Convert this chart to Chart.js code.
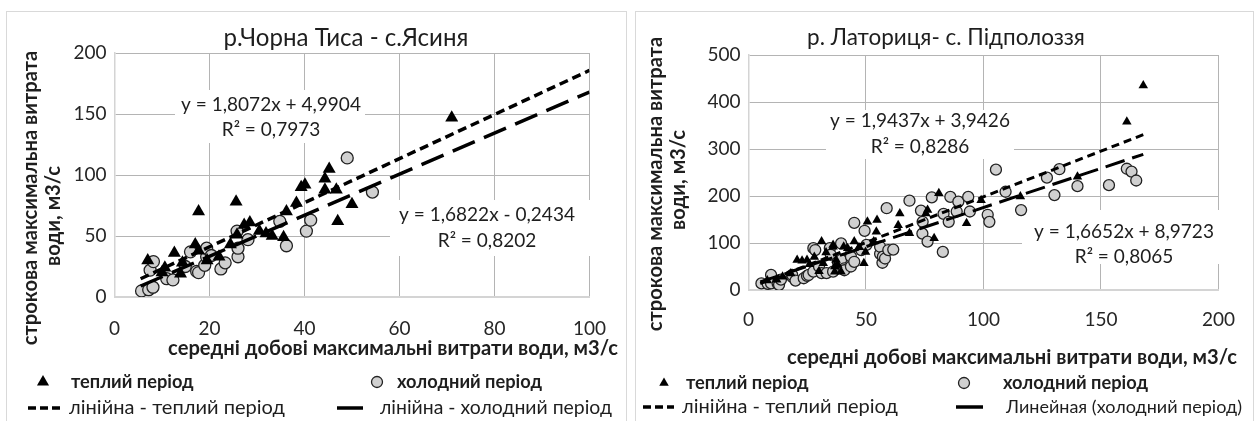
<!DOCTYPE html>
<html>
<head>
<meta charset="utf-8">
<title>Строкова та середні добові максимальні витрати води</title>
<script src="https://cdn.jsdelivr.net/npm/chart.js"></script>
<style>
  body { margin: 0; background: #fff; }
  .panel { position: absolute; top: 11px; height: 420px; border: 1px solid #d9d9d9; box-sizing: border-box; }
  .panel canvas { position: absolute; left: 0; top: 0; }
</style>
</head>
<body>
<div class="panel" style="left:6px; width:621px;"><canvas id="tysa" width="619" height="408"></canvas></div>
<div class="panel" style="left:635px; width:619px;"><canvas id="latorytsia" width="617" height="408"></canvas></div>
<script>
// р.Чорна Тиса - с.Ясиня: [середня добова, строкова] м3/с
const tysaWarm = [
  [7, 30], [10, 20], [10.6, 24], [12.6, 36], [13.9, 19], [14.3, 28], [17, 43], [17.7, 38],
  [17.7, 70], [19.5, 30], [22, 33], [24.4, 43], [25.6, 78], [25.8, 51], [27.3, 59], [28.5, 61],
  [30.5, 54], [31.9, 52], [33.2, 50], [35.6, 49], [36.2, 70], [38.3, 77], [39.3, 90], [40.1, 92],
  [44.3, 97], [44.3, 88], [45.2, 105], [46.7, 88], [47, 62], [50, 76], [71, 147]
];
const tysaCold = [
  [5.7, 5], [7.2, 6], [8.1, 8], [7.5, 22], [8.2, 29], [11, 15], [12.3, 14], [14.9, 25],
  [16, 37], [17.3, 21], [17.7, 20], [19, 26], [19.4, 33], [19.4, 40], [20.4, 34], [22.4, 23],
  [23.3, 28], [25.8, 54], [26, 33], [26, 40], [28.1, 47], [34.8, 62], [36.2, 42], [40.4, 54],
  [41.3, 63], [49, 114], [54.3, 86]
];
const tysaWarmFit = [1.8072, 4.9904];
const tysaColdFit = [1.6822, -0.2434];
const tysaFitRange = [5.5, 100];
const tysaWarmEq = ['y = 1,8072x + 4,9904', 'R² = 0,7973'];
const tysaColdEq = ['y = 1,6822x - 0,2434', 'R² = 0,8202'];
const tysaX = [0, 100, 20];   // min, max, step
const tysaY = [0, 200, 50];

// р. Латориця - с. Підполоззя
const latWarm = [
  [8, 20], [12, 22], [14.5, 28], [18, 35], [20.7, 64], [22.8, 62], [24.9, 64], [26, 55],
  [28, 70], [30, 40], [31.1, 103], [31.8, 57], [33, 80], [36, 92], [36, 96], [36.7, 39],
  [36.7, 50], [37.3, 64], [38, 53], [39.4, 39], [40.5, 92], [42.2, 89], [45, 103], [47, 91],
  [49.1, 57], [49.8, 81], [50.6, 145], [53.3, 103], [54.4, 124], [54.7, 149], [63.7, 138],
  [64.4, 163], [68.5, 121], [75.5, 163], [76.2, 170], [79, 110], [81, 206], [92.8, 142],
  [99, 191], [115.7, 199], [140, 241], [161, 358], [168, 435]
];
const latCold = [
  [5.5, 14], [8.2, 13], [9.6, 32], [9.6, 14], [12.4, 14], [13, 11], [13.8, 22], [18.6, 28],
  [18.6, 32], [20, 20], [23.5, 25], [24.9, 30], [25.6, 32], [27.6, 39], [27.6, 89], [28.4, 85],
  [30, 50], [31.1, 36], [33.2, 36], [34.6, 89], [35, 75], [36, 39], [38, 60], [39.4, 99],
  [39.4, 64], [40.8, 46], [40.8, 42], [43.6, 71], [43.6, 50], [45, 60], [45, 143], [48, 85],
  [49.4, 126], [50.2, 96], [56, 77], [56, 92], [57, 58], [57.2, 71], [58.1, 67], [58.8, 174],
  [59.5, 85], [61.6, 86], [68.5, 190], [73.4, 169], [74.1, 145], [74, 120], [76.2, 103],
  [78, 197], [82.7, 81], [83, 162], [85.2, 145], [85.9, 198], [88.6, 167], [89.3, 188],
  [93.5, 198], [94.2, 167], [101.8, 160], [102.5, 145], [105.3, 256], [109.4, 209], [116, 170],
  [127, 239], [130.2, 202], [132.3, 257], [140, 221], [153.4, 223], [161, 258], [163, 252],
  [165, 233]
];
const latWarmFit = [1.9437, 3.9426];
const latColdFit = [1.6652, 8.9723];
const latFitRange = [5, 168];
const latWarmEq = ['y = 1,9437x + 3,9426', 'R² = 0,8286'];
const latColdEq = ['y = 1,6652x + 8,9723', 'R² = 0,8065'];
const latX = [0, 200, 50];
const latY = [0, 500, 100];

const yTitle = ['строкова максимальна витрата', 'води, м3/с'];
const xTitle = 'середні добові максимальні витрати води, м3/с';
const legendLabels = ['теплий період', 'холодний період', 'лінійна - теплий період'];

const FAMILY = 'Lato, "Noto Sans", sans-serif';
Chart.defaults.font.family = FAMILY;
Chart.defaults.color = '#262626';
Chart.defaults.animation = false;

function toPts(pairs) { return pairs.map(p => ({ x: p[0], y: p[1] })); }
function fitLine(fit, range) { return range.map(x => ({ x: x, y: fit[0] * x + fit[1] })); }

// font size that makes a sample string as wide as it is in the picture (Calibri stand-in)
function sizeFor(ctx, text, weight, width) {
  ctx.font = weight + ' 20px ' + FAMILY;
  return 20 * width / ctx.measureText(text).width;
}

// titles, equation labels and the legend, drawn onto the chart canvas
const extras = {
  id: 'extras',
  beforeDatasetsDraw(chart, args, o) {
    const ctx = chart.ctx;
    ctx.save();
    ctx.fillStyle = '#fff';
    o.eqs.forEach(e => ctx.fillRect(e.box[0], e.box[1], e.box[2] - e.box[0], e.box[3] - e.box[1]));
    ctx.restore();
  },
  afterDraw(chart, args, o) {
    const ctx = chart.ctx;
    ctx.save();
    const sTitle = sizeFor(ctx, o.title, '', o.titleW);
    const sEq = sizeFor(ctx, tysaWarmEq[0], '', 180);
    const sAxis = sizeFor(ctx, xTitle, 'bold', 450);
    const sLegB = sizeFor(ctx, legendLabels[1], 'bold', 145);
    const sLeg = sizeFor(ctx, legendLabels[2], '', 216);
    const sLast = sizeFor(ctx, o.lastLabel, '', o.lastW);

    ctx.fillStyle = '#1e1e1e';
    ctx.textAlign = 'center';
    ctx.textBaseline = 'middle';

    ctx.font = sTitle + 'px ' + FAMILY;
    ctx.fillText(o.title, o.titlePos[0], o.titlePos[1]);

    ctx.font = sEq + 'px ' + FAMILY;
    o.eqs.forEach(e => {
      ctx.fillText(e.text[0], e.x, e.y[0]);
      ctx.fillText(e.text[1], e.x, e.y[1]);
    });

    ctx.font = 'bold ' + sAxis + 'px ' + FAMILY;
    ctx.fillText(xTitle, o.xTitlePos[0], o.xTitlePos[1]);
    o.yTitlePos.forEach((p, i) => {
      ctx.save();
      ctx.translate(p[0], p[1]);
      ctx.rotate(-Math.PI / 2);
      ctx.fillText(yTitle[i], 0, 0);
      ctx.restore();
    });

    // legend
    const L = o.legend;
    ctx.fillStyle = '#000';
    ctx.strokeStyle = '#222';
    Chart.helpers.drawPoint(ctx, { pointStyle: 'triangle', radius: L.triR, borderWidth: 0 }, L.mark1, L.rows[0]);
    ctx.fillStyle = '#d0d0d0';
    ctx.lineWidth = 1.3;
    Chart.helpers.drawPoint(ctx, { pointStyle: 'circle', radius: L.circR, borderWidth: 1.3 }, L.mark2, L.rows[0]);

    ctx.strokeStyle = '#000';
    ctx.lineWidth = 3.5;
    ctx.setLineDash([8, 4]);
    ctx.beginPath();
    ctx.moveTo(L.line1[0], L.rows[1]);
    ctx.lineTo(L.line1[1], L.rows[1]);
    ctx.stroke();
    ctx.setLineDash([]);
    ctx.beginPath();
    ctx.moveTo(L.line2[0], L.rows[1]);
    ctx.lineTo(L.line2[1], L.rows[1]);
    ctx.stroke();

    ctx.fillStyle = '#1e1e1e';
    ctx.textAlign = 'left';
    ctx.font = 'bold ' + sLegB + 'px ' + FAMILY;
    ctx.fillText(legendLabels[0], L.text[0], L.rows[0]);
    ctx.fillText(legendLabels[1], L.text[1], L.rows[0]);
    ctx.font = sLeg + 'px ' + FAMILY;
    ctx.fillText(legendLabels[2], L.text[2], L.rows[1]);
    ctx.font = sLast + 'px ' + FAMILY;
    ctx.fillText(o.lastLabel, L.text[3], L.rows[1]);
    ctx.restore();
  }
};

function makeChart(id, s) {
  const grid = { color: '#b4b4b4', lineWidth: 1, drawTicks: false };
  return new Chart(document.getElementById(id), {
    type: 'scatter',
    data: {
      datasets: [
        {
          type: 'line', data: fitLine(s.warmFit, s.range), borderColor: '#000',
          borderWidth: s.lineW, borderDash: s.dashWarm, pointRadius: 0, fill: false, order: 0
        },
        {
          type: 'line', data: fitLine(s.coldFit, s.range), borderColor: '#000',
          borderWidth: s.lineW, borderDash: s.dashCold, pointRadius: 0, fill: false, order: 0
        },
        {
          data: toPts(s.warm), pointStyle: 'triangle', pointRadius: s.triR,
          backgroundColor: '#000', borderColor: '#000', borderWidth: 0, order: 1
        },
        {
          data: toPts(s.cold), pointStyle: 'circle', pointRadius: s.circR,
          backgroundColor: '#d0d0d0', borderColor: '#222', borderWidth: 1.3, order: 2
        }
      ]
    },
    options: {
      responsive: false,
      layout: { padding: s.pad },
      scales: {
        x: {
          type: 'linear', min: s.xs[0], max: s.xs[1],
          ticks: { stepSize: s.xs[2], padding: s.xPad, font: { size: 19 } },
          grid: grid, border: { color: '#d4d4d4', width: 2 },
          afterFit: sc => { sc.height = 40; }
        },
        y: {
          min: s.ys[0], max: s.ys[1],
          ticks: { stepSize: s.ys[2], padding: 8, font: { size: 19 } },
          grid: grid, border: { color: '#d4d4d4', width: 1.5 },
          afterFit: sc => { sc.width = s.yW; }
        }
      },
      plugins: {
        legend: { display: false },
        tooltip: { enabled: false },
        extras: s.extras
      }
    },
    plugins: [extras]
  });
}

makeChart('tysa', {
  warm: tysaWarm, cold: tysaCold, warmFit: tysaWarmFit, coldFit: tysaColdFit, range: tysaFitRange,
  xs: tysaX, ys: tysaY, yW: 107.5, pad: { left: 0, top: 41, right: 18, bottom: 83 }, xPad: 20,
  triR: 7.5, circR: 6, lineW: 3.5, dashWarm: [9, 5], dashCold: [24, 10],
  extras: {
    title: 'р.Чорна Тиса - с.Ясиня', titlePos: [339, 26], titleW: 245,
    xTitlePos: [386, 336], yTitlePos: [[23, 186], [46, 204]],
    eqs: [
      { text: tysaWarmEq, x: 264, y: [93, 118], box: [168, 78, 358, 131] },
      { text: tysaColdEq, x: 480, y: [203, 229], box: [383, 188, 597, 244] }
    ],
    lastLabel: 'лінійна - холодний період', lastW: 232,
    legend: { rows: [370, 396], triR: 7, circR: 5.5, mark1: 36, mark2: 370,
      line1: [21, 57], line2: [330, 356], text: [64, 390, 62, 373] }
  }
});

makeChart('latorytsia', {
  warm: latWarm, cold: latCold, warmFit: latWarmFit, coldFit: latColdFit, range: latFitRange,
  xs: latX, ys: latY, yW: 112.5, pad: { left: 0, top: 43, right: 23.5, bottom: 90 }, xPad: 18,
  triR: 5.5, circR: 5.5, lineW: 3, dashWarm: [8, 5], dashCold: [20, 8],
  extras: {
    title: 'р. Латориця- с. Підполоззя', titlePos: [310, 26], titleW: 278,
    xTitlePos: [376, 345], yTitlePos: [[19, 172], [42, 168]],
    eqs: [
      { text: latWarmEq, x: 284, y: [109, 135], box: [190, 98, 378, 147] },
      { text: latColdEq, x: 488, y: [220, 245], box: [386, 198, 594, 252] }
    ],
    lastLabel: 'Линейная (холодний період)', lastW: 236,
    legend: { rows: [371, 395], triR: 5.5, circR: 5.5, mark1: 28, mark2: 328,
      line1: [7, 38], line2: [320, 347], text: [50, 367, 46, 370] }
  }
});
</script>
</body>
</html>
